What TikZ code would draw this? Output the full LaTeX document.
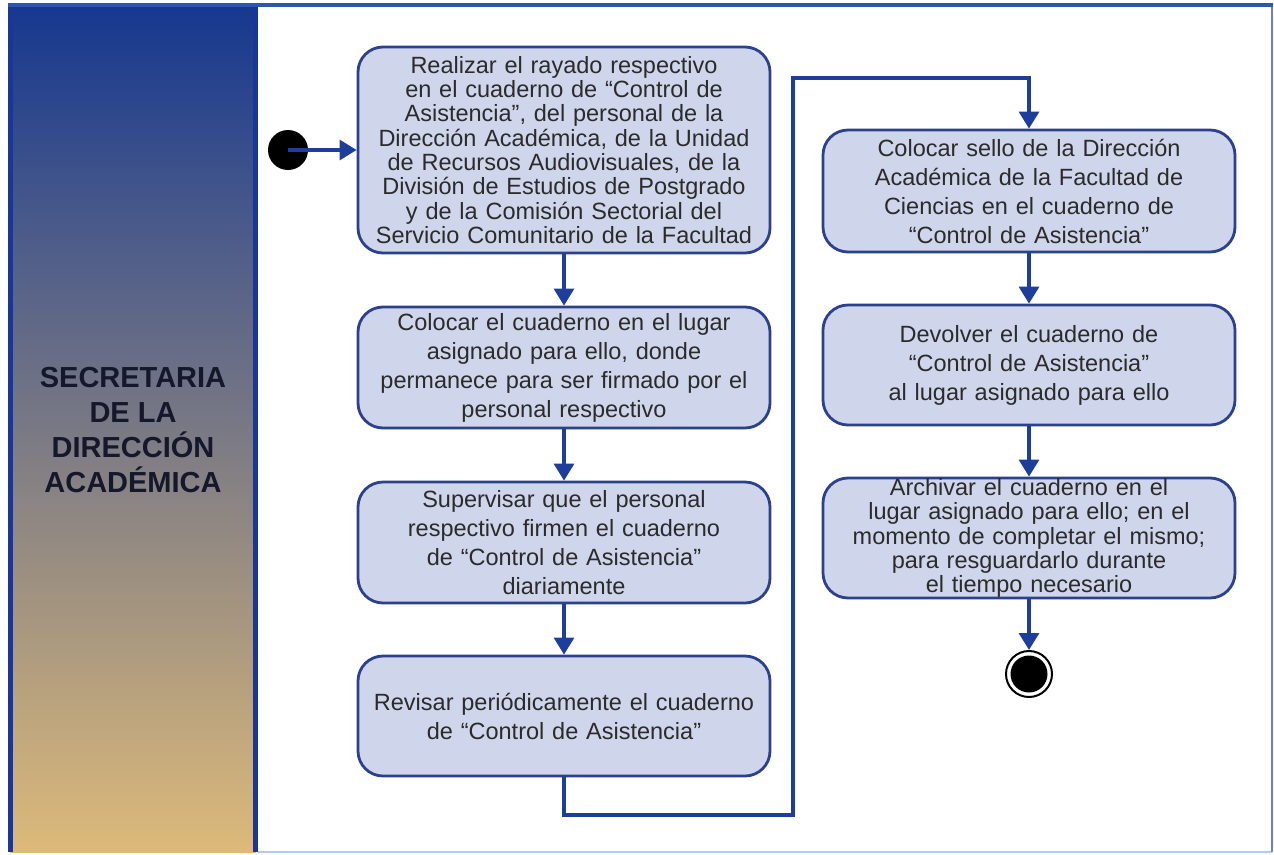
\documentclass[tikz,border=0pt]{standalone}
\usepackage{fontspec}
\setmainfont{Liberation Sans}
\usetikzlibrary{arrows.meta}

\definecolor{boxfill}{HTML}{CFD5EA}
\definecolor{boxline}{HTML}{2C418E}
\definecolor{flowc}{HTML}{1E3E9C}
\definecolor{txt}{HTML}{2B2B2B}
\definecolor{laneTop}{HTML}{16388F}
\definecolor{laneMid}{HTML}{6C7196}
\definecolor{laneBot}{HTML}{DDBA7A}
\definecolor{laneEdge}{HTML}{1A3697}
\definecolor{poolTop}{HTML}{2E56B0}
\definecolor{poolRight}{HTML}{6F7FC8}
\definecolor{poolBottom}{HTML}{B0CDEE}
\definecolor{laneText}{HTML}{15182A}

\begin{document}
\begin{tikzpicture}[x=1pt,y=-1pt,
  act/.style={draw=boxline, line width=2.8pt, fill=boxfill, rounded corners=25pt,
    text width=396pt, inner xsep=8pt, inner ysep=0pt, align=center, text=txt,
    font=\fontsize{23.5}{29}\selectfont},
  tight/.style={font=\fontsize{23.5}{24.3}\selectfont},
  flow/.style={draw=flowc, line width=3.2pt, -{Triangle[length=17pt,width=20pt]}},
  startdot/.style={circle, fill=black, minimum size=40pt, inner sep=0pt},
  endring/.style={circle, draw=black, line width=2pt, fill=white, minimum size=46pt, inner sep=0pt},
  enddot/.style={circle, fill=black, minimum size=37pt, inner sep=0pt}]

\useasboundingbox (0,0) rectangle (1274,854);
\fill[white] (0,0) rectangle (1274,854);

% swimlane header with vertical gradient
\shade[top color=laneTop, middle color=laneMid, bottom color=laneBot]
  (10,6) rectangle (256,852);
\draw[laneEdge, line width=5pt] (10.5,6) -- (10.5,852);
\draw[laneEdge, line width=5pt] (255.5,6) -- (255.5,852);

% pool frame
\draw[poolBottom, line width=2pt] (258,852) -- (1272,852);
\draw[poolRight, line width=2pt] (1272,5) -- (1272,852);
\draw[poolTop, line width=4pt] (8,5) -- (1273,5);

\node[text=laneText, align=center, font=\fontsize{29}{35}\selectfont\bfseries]
  (lanelabel) at (133,430) {SECRETARIA\\DE LA\\DIRECCIÓN\\ACADÉMICA};

% activities, first column
\node[act, tight, minimum height=206pt] (b1) at (564,150)
  {Realizar el rayado respectivo\\ en el cuaderno de “Control de\\ Asistencia”, del personal de la\\ Dirección Académica, de la Unidad\\ de Recursos Audiovisuales, de la\\ División de Estudios de Postgrado\\ y de la Comisión Sectorial del\\ Servicio Comunitario de la Facultad};
\node[act, minimum height=121pt] (b2) at (564,367.5)
  {Colocar el cuaderno en el lugar\\ asignado para ello, donde\\ permanece para ser firmado por el\\ personal respectivo};
\node[act, minimum height=121pt] (b3) at (564,542.5)
  {Supervisar que el personal\\ respectivo firmen el cuaderno\\ de “Control de Asistencia”\\ diariamente};
\node[act, minimum height=120pt] (b4) at (564,716)
  {Revisar periódicamente el cuaderno\\ de “Control de Asistencia”};

% activities, second column
\node[act, minimum height=122pt] (b5) at (1029,191)
  {Colocar sello de la Dirección\\ Académica de la Facultad de\\ Ciencias en el cuaderno de\\ “Control de Asistencia”};
\node[act, minimum height=120pt] (b6) at (1029,365)
  {Devolver el cuaderno de\\ “Control de Asistencia”\\ al lugar asignado para ello};
\node[act, tight, minimum height=120pt] (b7) at (1029,538)
  {Archivar el cuaderno en el\\ lugar asignado para ello; en el\\ momento de completar el mismo;\\ para resguardarlo durante\\ el tiempo necesario};

% initial and final states
\node[startdot] (start) at (288,150) {};
\node[endring] (end) at (1029,674) {};
\node[enddot] (enddot) at (end) {};

% control flow
\draw[flow] (start.center) -- (b1.west);
\draw[flow] (b1.south) -- (b2.north);
\draw[flow] (b2.south) -- (b3.north);
\draw[flow] (b3.south) -- (b4.north);
\coordinate (c1) at (564,815);
\coordinate (c2) at (793,815);
\coordinate (c3) at (793,78);
\coordinate (c4) at (1029,78);
\draw[flow] (b4.south) -- (c1) -- (c2) -- (c3) -- (c4) -- (b5.north);
\draw[flow] (b5.south) -- (b6.north);
\draw[flow] (b6.south) -- (b7.north);
\draw[flow] (b7.south) -- (end.north);
\end{tikzpicture}
\end{document}
